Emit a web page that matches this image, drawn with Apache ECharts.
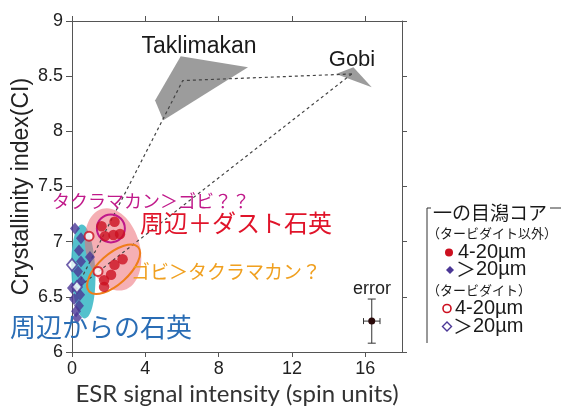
<!DOCTYPE html>
<html><head><meta charset="utf-8">
<script src="https://cdn.jsdelivr.net/npm/echarts@6/dist/echarts.min.js"></script>
<style>html,body{margin:0;padding:0;background:#fff}#c{width:561px;height:410px}</style>
</head><body><div id="c"></div><script>
// Axis ticks
const xTicks = [0, 4, 8, 12, 16];
const yTicks = [6, 6.5, 7, 7.5, 8, 8.5, 9];

// Ichinomegata core quartz: [ESR intensity, crystallinity index]
// non-turbidite layers
const fineNonTurb = [[1.61,7.14],[2.32,7.18],[1.80,7.05],[2.26,7.06],[2.62,7.07],
                     [2.76,6.84],[2.32,6.79],[2.13,6.70],[1.75,6.65],[1.75,6.59]];
const coarseNonTurb = [[0.16,7.12],[0.49,7.03],[0.38,6.92],[0.49,6.82],[0.33,6.73],
                       [0.49,6.64],[0.98,6.86],[0.00,6.58],[0.44,6.52],[0.11,6.48],
                       [0.38,6.42],[0.22,6.37],[0.27,6.31]];
// turbidite layers
const fineTurb = [[0.93,7.05],[1.42,6.73]];
const coarseTurb = [[0.00,6.79],[0.27,6.59]];

// Source-area fields
const taklimakan = [[5.93,8.68],[9.60,8.58],[4.98,8.10],[4.53,8.28]];
const gobi = [[14.40,8.52],[15.35,8.58],[16.35,8.40]];
// Mixing lines towards the local quartz end member
const mixTaklimakan = [[15.26,8.52],[6.04,8.46],[0.12,6.54]];
const mixGobi = [[15.26,8.52],[0.22,6.57]];
// Typical analytical error: [x, y, xErr, yErr]
const errorBar = [[16.35,6.28,0.45,0.2]];

// Group outlines (centres in data units)
const localZone = [0.62, 6.73];
const dustZone = [2.24, 6.93];
const taklimakanZone = [2.12, 7.12];
const gobiZone = [2.27, 6.75];

const RED = '#cc1020', PURPLE = '#4b3796';
const FONT = '"Liberation Sans", Arial, sans-serif';
const JP = '"Noto Sans CJK JP", sans-serif';

function ellipseSeries(center, rx, ry, deg, style, z) {
  return {
    type: 'custom', coordinateSystem: 'cartesian2d', data: [center], z: z, silent: true,
    renderItem: function (params, api) {
      const p = api.coord([api.value(0), api.value(1)]);
      return { type: 'ellipse', x: p[0], y: p[1], rotation: deg * Math.PI / 180,
               shape: { cx: 0, cy: 0, rx: rx, ry: ry }, style: style };
    }
  };
}
function polygonSeries(pts, z) {
  return {
    type: 'custom', coordinateSystem: 'cartesian2d', data: pts, z: z, silent: true,
    renderItem: function (params, api) {
      if (params.dataIndex > 0) return null;
      return { type: 'polygon', shape: { points: pts.map(function (p) { return api.coord(p); }) },
               style: { fill: '#9c9c9c' } };
    }
  };
}
function dashed(pts) {
  return { type: 'line', data: pts, symbol: 'none', z: 3, silent: true,
           lineStyle: { color: '#444', width: 1.2, type: [3, 3] } };
}

const tickAxis = {
  axisLine: { show: true, onZero: false, lineStyle: { color: '#555', width: 1 } },
  splitLine: { show: false }
};

const chart = echarts.init(document.getElementById('c'));
chart.setOption({
  animation: false,
  grid: { left: 72, right: 159, top: 21, bottom: 58, outerBoundsMode: 'none' },
  xAxis: [
    Object.assign({
      type: 'value', min: 0, max: 18, position: 'bottom',
      axisTick: { show: true, length: 5, customValues: xTicks, lineStyle: { color: '#555' } },
      axisLabel: { customValues: xTicks, fontSize: 18, color: '#222', fontFamily: FONT, margin: 8 },
      name: 'ESR signal intensity (spin units)', nameLocation: 'middle', nameGap: 30,
      nameMoveOverlap: false,
      nameTextStyle: { fontSize: 24, color: '#333', fontFamily: 'Lato, sans-serif', verticalAlign: 'top' }
    }, tickAxis),
    Object.assign({
      type: 'value', min: 0, max: 18, position: 'top',
      axisTick: { show: true, length: 5, customValues: xTicks, lineStyle: { color: '#555' } },
      axisLabel: { show: false }
    }, tickAxis)
  ],
  yAxis: [
    Object.assign({
      type: 'value', min: 6, max: 9, interval: 0.5, position: 'left',
      axisTick: { show: true, length: 6, lineStyle: { color: '#555' } },
      axisLabel: { fontSize: 18, color: '#222', fontFamily: FONT, margin: 9,
                   formatter: function (v) { return String(v); } },
      name: 'Crystallinity index(CI)', nameLocation: 'middle', nameGap: 39,
      nameMoveOverlap: false,
      nameTextStyle: { fontSize: 23, color: '#222', fontFamily: FONT }
    }, tickAxis),
    Object.assign({
      type: 'value', min: 6, max: 9, interval: 0.5, position: 'right',
      axisTick: { show: true, length: 5, lineStyle: { color: '#555' } },
      axisLabel: { show: false }
    }, tickAxis)
  ],
  series: [
    ellipseSeries(localZone, 12, 47, 2, { fill: 'rgba(64,186,200,0.9)' }, 1),
    ellipseSeries(dustZone, 27, 42, 15, { fill: 'rgba(236,110,118,0.55)' }, 1),
    polygonSeries(taklimakan, 2),
    polygonSeries(gobi, 2),
    dashed(mixTaklimakan),
    dashed(mixGobi),
    ellipseSeries(taklimakanZone, 14, 14, 0, { fill: 'none', stroke: '#c0198a', lineWidth: 2 }, 4),
    ellipseSeries(gobiZone, 33, 15, 42, { fill: 'none', stroke: '#ef7d1a', lineWidth: 2 }, 4),
    { type: 'scatter', data: coarseNonTurb, symbol: 'diamond', symbolSize: [10, 12], z: 5,
      itemStyle: { color: PURPLE } },
    { type: 'scatter', data: fineNonTurb, symbol: 'circle', symbolSize: 10.5, z: 5,
      itemStyle: { color: RED } },
    { type: 'scatter', data: coarseTurb, symbol: 'diamond', symbolSize: [10, 12], z: 5,
      itemStyle: { color: '#fff', borderColor: PURPLE, borderWidth: 1.8 } },
    { type: 'scatter', data: fineTurb, symbol: 'circle', symbolSize: 9, z: 5,
      itemStyle: { color: '#fff', borderColor: RED, borderWidth: 2 } },
    {
      type: 'custom', coordinateSystem: 'cartesian2d', data: errorBar, z: 5, silent: true,
      renderItem: function (params, api) {
        const x = api.value(0), y = api.value(1), ex = api.value(2), ey = api.value(3);
        const c = api.coord([x, y]);
        const l = api.coord([x - ex, y]), r = api.coord([x + ex, y]);
        const t = api.coord([x, y + ey]), b = api.coord([x, y - ey]);
        const ls = { stroke: '#333', lineWidth: 1 };
        return { type: 'group', children: [
          { type: 'line', shape: { x1: l[0], y1: l[1], x2: r[0], y2: r[1] }, style: ls },
          { type: 'line', shape: { x1: t[0], y1: t[1], x2: b[0], y2: b[1] }, style: ls },
          { type: 'line', shape: { x1: l[0], y1: l[1] - 3, x2: l[0], y2: l[1] + 3 }, style: ls },
          { type: 'line', shape: { x1: r[0], y1: r[1] - 3, x2: r[0], y2: r[1] + 3 }, style: ls },
          { type: 'line', shape: { x1: t[0] - 4, y1: t[1], x2: t[0] + 4, y2: t[1] }, style: ls },
          { type: 'line', shape: { x1: b[0] - 4, y1: b[1], x2: b[0] + 4, y2: b[1] }, style: ls },
          { type: 'circle', shape: { cx: c[0], cy: c[1], r: 3.5 }, style: { fill: '#2a0a0a' } }
        ] };
      }
    }
  ],
  graphic: [
    { type: 'text', x: 199, y: 47, z: 10, style: { text: 'Taklimakan', font: '23px ' + FONT, fill: '#1a1a1a', align: 'center', verticalAlign: 'middle' } },
    { type: 'text', x: 352, y: 60, z: 10, style: { text: 'Gobi', font: '22px ' + FONT, fill: '#1a1a1a', align: 'center', verticalAlign: 'middle' } },
    { type: 'text', x: 372, y: 289, z: 10, style: { text: 'error', font: '18px ' + FONT, fill: '#222', align: 'center', verticalAlign: 'middle' } },
    { type: 'text', x: 52, y: 201, z: 10, style: { text: 'タクラマカン＞ゴビ？？', font: '18px ' + JP, fill: '#c0198a', align: 'left', verticalAlign: 'middle' } },
    { type: 'text', x: 140, y: 223, z: 10, style: { text: '周辺＋ダスト石英', font: '24px ' + JP, fill: '#e0142a', align: 'left', verticalAlign: 'middle' } },
    { type: 'text', x: 131, y: 272, z: 10, style: { text: 'ゴビ＞タクラマカン？', font: '19px ' + JP, fill: '#f0a020', align: 'left', verticalAlign: 'middle' } },
    { type: 'text', x: 10, y: 327, z: 10, style: { text: '周辺からの石英', font: '26px ' + JP, fill: '#2a6db5', align: 'left', verticalAlign: 'middle' } },
    // legend box
    { type: 'polyline', z: 10, shape: { points: [[431, 208], [427, 208], [427, 343]] }, style: { stroke: '#333', lineWidth: 1, fill: 'none' } },
    { type: 'line', z: 10, shape: { x1: 550, y1: 208, x2: 561, y2: 208 }, style: { stroke: '#333', lineWidth: 1 } },
    { type: 'text', x: 433, y: 213, z: 10, style: { text: '一の目潟コア', font: '19px ' + JP, fill: '#1a1a1a', align: 'left', verticalAlign: 'middle' } },
    { type: 'text', x: 427, y: 233, z: 10, style: { text: '（タービダイト以外）', font: '13px ' + JP, fill: '#1a1a1a', align: 'left', verticalAlign: 'middle' } },
    { type: 'circle', z: 10, shape: { cx: 449, cy: 252.5, r: 4 }, style: { fill: RED } },
    { type: 'text', x: 458, y: 252, z: 10, style: { text: '4-20µm', font: '20px ' + FONT, fill: '#1a1a1a', align: 'left', verticalAlign: 'middle' } },
    { type: 'polygon', z: 10, shape: { points: [[450, 266], [454, 270], [450, 274], [446, 270]] }, style: { fill: PURPLE } },
    { type: 'text', x: 456, y: 269, z: 10, style: { text: '＞', font: '20px ' + JP, fill: '#1a1a1a', align: 'left', verticalAlign: 'middle' } },
    { type: 'text', x: 476, y: 269, z: 10, style: { text: '20µm', font: '20px ' + FONT, fill: '#1a1a1a', align: 'left', verticalAlign: 'middle' } },
    { type: 'text', x: 427, y: 290, z: 10, style: { text: '（タービダイト）', font: '13px ' + JP, fill: '#1a1a1a', align: 'left', verticalAlign: 'middle' } },
    { type: 'circle', z: 10, shape: { cx: 447, cy: 308.5, r: 4 }, style: { fill: '#fff', stroke: RED, lineWidth: 1.6 } },
    { type: 'text', x: 455, y: 308, z: 10, style: { text: '4-20µm', font: '20px ' + FONT, fill: '#1a1a1a', align: 'left', verticalAlign: 'middle' } },
    { type: 'polygon', z: 10, shape: { points: [[447, 322], [451.5, 326.5], [447, 331], [442.5, 326.5]] }, style: { fill: '#fff', stroke: PURPLE, lineWidth: 1.4 } },
    { type: 'text', x: 453, y: 326, z: 10, style: { text: '＞', font: '20px ' + JP, fill: '#1a1a1a', align: 'left', verticalAlign: 'middle' } },
    { type: 'text', x: 473, y: 326, z: 10, style: { text: '20µm', font: '20px ' + FONT, fill: '#1a1a1a', align: 'left', verticalAlign: 'middle' } }
  ]
});
</script></body></html>
